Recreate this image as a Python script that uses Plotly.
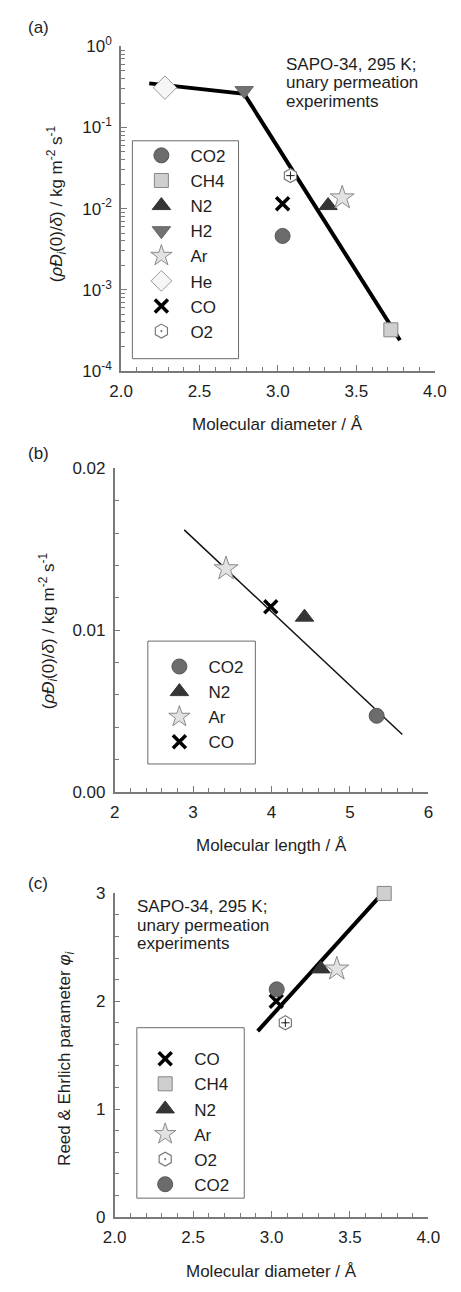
import plotly.graph_objects as go
import numpy as np

W, H = 461, 1292
FONT = "Liberation Sans, Arial, sans-serif"
TXT = "#1e1e1e"
AX = "#7a7a7a"

# ---------------- data ----------------
# panel (a): molecular diameter vs (rho D(0)/delta)
a_species = ["CO2", "CH4", "N2", "H2", "Ar", "He", "CO", "O2"]
a_diam = [3.03, 3.72, 3.32, 2.785, 3.41, 2.28, 3.03, 3.08]
a_flux = [0.0046, 0.00032, 0.0109, 0.285, 0.0136, 0.31, 0.0115, 0.0255]
a_line_x = [2.18, 2.785, 3.778]
a_line_y = [0.35, 0.26, 0.000238]

# panel (b): molecular length
b_species = ["CO2", "N2", "Ar", "CO"]
b_len = [5.34, 4.42, 3.42, 3.99]
b_flux = [0.0047, 0.0108, 0.0138, 0.01145]
b_line_x = [2.887, 5.667]
b_line_y = [0.0162, 0.00354]

# panel (c): Reed & Ehrlich parameter
c_species = ["CO", "CH4", "N2", "Ar", "O2", "CO2"]
c_diam = [3.03, 3.718, 3.315, 3.416, 3.088, 3.033]
c_phi = [2.0, 3.0, 2.3, 2.3, 1.8, 2.11]
c_line_x = [2.912, 3.678]
c_line_y = [1.723, 2.954]

log_ticks = [1e-4, 1e-3, 1e-2, 1e-1, 1]
log_ticktext = ["10<sup>-4</sup>", "10<sup>-3</sup>", "10<sup>-2</sup>", "10<sup>-1</sup>", "10<sup>0</sup>"]

STYLE = {
    "CO2": dict(symbol="circle", size=15, color="#6c6c6c", line=dict(color="#555555", width=1)),
    "CH4": dict(symbol="square", size=14, color="#cfcfcf", line=dict(color="#858585", width=1)),
    "N2": dict(symbol="triangle-up", size=16, color="#353535", line=dict(color="#353535", width=1)),
    "H2": dict(symbol="triangle-down", size=16, color="#727272", line=dict(color="#666666", width=1)),
    "Ar": dict(symbol="star", size=18, color="#e2e2e2", line=dict(color="#8a8a8a", width=1)),
    "He": dict(symbol="diamond", size=18, color="#f6f6f6", line=dict(color="#9a9a9a", width=1)),
    "CO": dict(symbol="x-thin", size=13, color="#000000", line=dict(color="#000000", width=3.5)),
    "O2": dict(symbol="hexagon-dot", size=14, color="#ffffff", line=dict(color="#7a7a7a", width=1.2)),
}


def px_x(x):
    return x / W


def px_y(y):
    return 1 - y / H


fig = go.Figure()


def add_panel(species, xs, ys, xa, ya, legend):
    for name, x, y in zip(species, xs, ys):
        fig.add_trace(go.Scatter(
            x=[x], y=[y], mode="markers", name=name, marker=STYLE[name],
            xaxis=xa, yaxis=ya, legend=legend, showlegend=True, cliponaxis=False))
        if name == "O2":
            fig.add_trace(go.Scatter(
                x=[x], y=[y], mode="markers", showlegend=False, hoverinfo="skip",
                marker=dict(symbol="cross-thin", size=6, line=dict(color="#222222", width=1)),
                xaxis=xa, yaxis=ya, cliponaxis=False))


# lines first so markers on top
fig.add_trace(go.Scatter(x=a_line_x, y=a_line_y, mode="lines", line=dict(color="black", width=4),
                         showlegend=False, xaxis="x", yaxis="y", cliponaxis=False))
fig.add_trace(go.Scatter(x=b_line_x, y=b_line_y, mode="lines", line=dict(color="#111111", width=1.5),
                         showlegend=False, xaxis="x2", yaxis="y2", cliponaxis=False))
fig.add_trace(go.Scatter(x=c_line_x, y=c_line_y, mode="lines", line=dict(color="black", width=4),
                         showlegend=False, xaxis="x3", yaxis="y3", cliponaxis=False))

add_panel(a_species, a_diam, a_flux, "x", "y", "legend")
add_panel(b_species, b_len, b_flux, "x2", "y2", "legend2")
add_panel(c_species, c_diam, c_phi, "x3", "y3", "legend3")

axis_common = dict(showline=True, linecolor=AX, linewidth=1.5, ticks="inside", tickcolor=AX,
                   ticklen=6, tickwidth=1, showgrid=False, zeroline=False, mirror=False,
                   tickfont=dict(family=FONT, size=17, color=TXT))

minor_decades = [k * 10.0 ** e for e in range(-4, 0) for k in range(2, 10)]

fig.update_layout(
    width=W, height=H, margin=dict(l=0, r=0, t=0, b=0),
    paper_bgcolor="white", plot_bgcolor="white",
    font=dict(family=FONT, size=17, color=TXT),
    xaxis=dict(domain=[px_x(115), px_x(446)], range=[2, 4], dtick=0.5, tickformat=".1f",
               minor=dict(dtick=0.1, ticks="inside", ticklen=4, tickcolor=AX), anchor="y",
               ticklabelstandoff=4, **axis_common),
    yaxis=dict(domain=[px_y(365), px_y(35)], type="log", range=[-4, 0], tickmode="array",
               tickvals=log_ticks, ticktext=log_ticktext, anchor="x",
               minor=dict(tickvals=minor_decades, ticks="inside", ticklen=4, tickcolor=AX),
               ticklabelstandoff=4, **axis_common),
    xaxis2=dict(domain=[px_x(108.3), px_x(439.3)], range=[2, 6], dtick=1,
                minor=dict(dtick=0.2, ticks="inside", ticklen=4, tickcolor=AX), anchor="y2",
                ticklabelstandoff=4, **axis_common),
    yaxis2=dict(domain=[px_y(793.3), px_y(464.3)], range=[0, 0.02], dtick=0.01, tickformat=".2f",
                minor=dict(dtick=0.002, ticks="inside", ticklen=5, tickcolor=AX), anchor="x2",
                ticklabelstandoff=4, **axis_common),
    xaxis3=dict(domain=[px_x(108.3), px_x(439.3)], range=[2, 4], dtick=0.5, tickformat=".1f",
                minor=dict(dtick=0.1, ticks="inside", ticklen=4, tickcolor=AX), anchor="y3",
                ticklabelstandoff=4, **axis_common),
    yaxis3=dict(domain=[px_y(1225.7), px_y(896.7)], range=[0, 3], dtick=1,
                minor=dict(dtick=0.2, ticks="inside", ticklen=5, tickcolor=AX), anchor="x3",
                ticklabelstandoff=4, **axis_common),
)

leg_common = dict(bgcolor="rgba(0,0,0,0)", borderwidth=0, font=dict(family=FONT, size=17, color=TXT),
                  xanchor="left", yanchor="top", itemwidth=48, itemclick=False, tracegroupgap=0)
fig.update_layout(
    legend=dict(x=px_x(127), y=px_y(128), **leg_common),
    legend2=dict(x=px_x(146), y=px_y(648), **leg_common),
    legend3=dict(x=px_x(131), y=px_y(1047), **leg_common),
)

# legend frames
for (x0, y0, x1, y1) in [(127, 131, 239, 352.7), (143.3, 640, 256.7, 765), (131.7, 1033.3, 245, 1206.7)]:
    fig.add_shape(type="rect", xref="paper", yref="paper", x0=px_x(x0), x1=px_x(x1),
                  y0=px_y(y1), y1=px_y(y0), line=dict(color="#6a6a6a", width=1), fillcolor="rgba(0,0,0,0)")

ann = []


def text(x, y, s, angle=0, xanchor="center", size=17):
    ann.append(dict(x=px_x(x), y=px_y(y), xref="paper", yref="paper", text=s, showarrow=False,
                    textangle=angle, xanchor=xanchor, yanchor="middle",
                    font=dict(family=FONT, size=size, color=TXT)))


# panel labels
text(15, 16, "(a)", xanchor="left")
text(15, 449, "(b)", xanchor="left")
text(15, 887, "(c)", xanchor="left")

# axis titles
text(280, 420, "Molecular diameter / Å")
text(274, 848, "Molecular length / Å")
text(274, 1281, "Molecular diameter / Å")
ytitle = "(<i>ρĐ</i><sub><i>i</i></sub>(0)/<i>δ</i>) / kg m<sup>-2</sup> s<sup>-1</sup>"
text(47, 195, ytitle, angle=-90)
text(38, 630, ytitle, angle=-90)
text(57, 1065, "Reed & Ehrlich parameter <i>φ</i><sub><i>i</i></sub>", angle=-90)

# in-plot notes
for i, s in enumerate(["SAPO-34, 295 K;", "unary permeation", "experiments"]):
    text(287, 53.5 + 18.7 * i, s, xanchor="left")
    text(130, 910 + 19 * i, s, xanchor="left")

fig.update_layout(annotations=ann)
fig.write_html("out.html")
